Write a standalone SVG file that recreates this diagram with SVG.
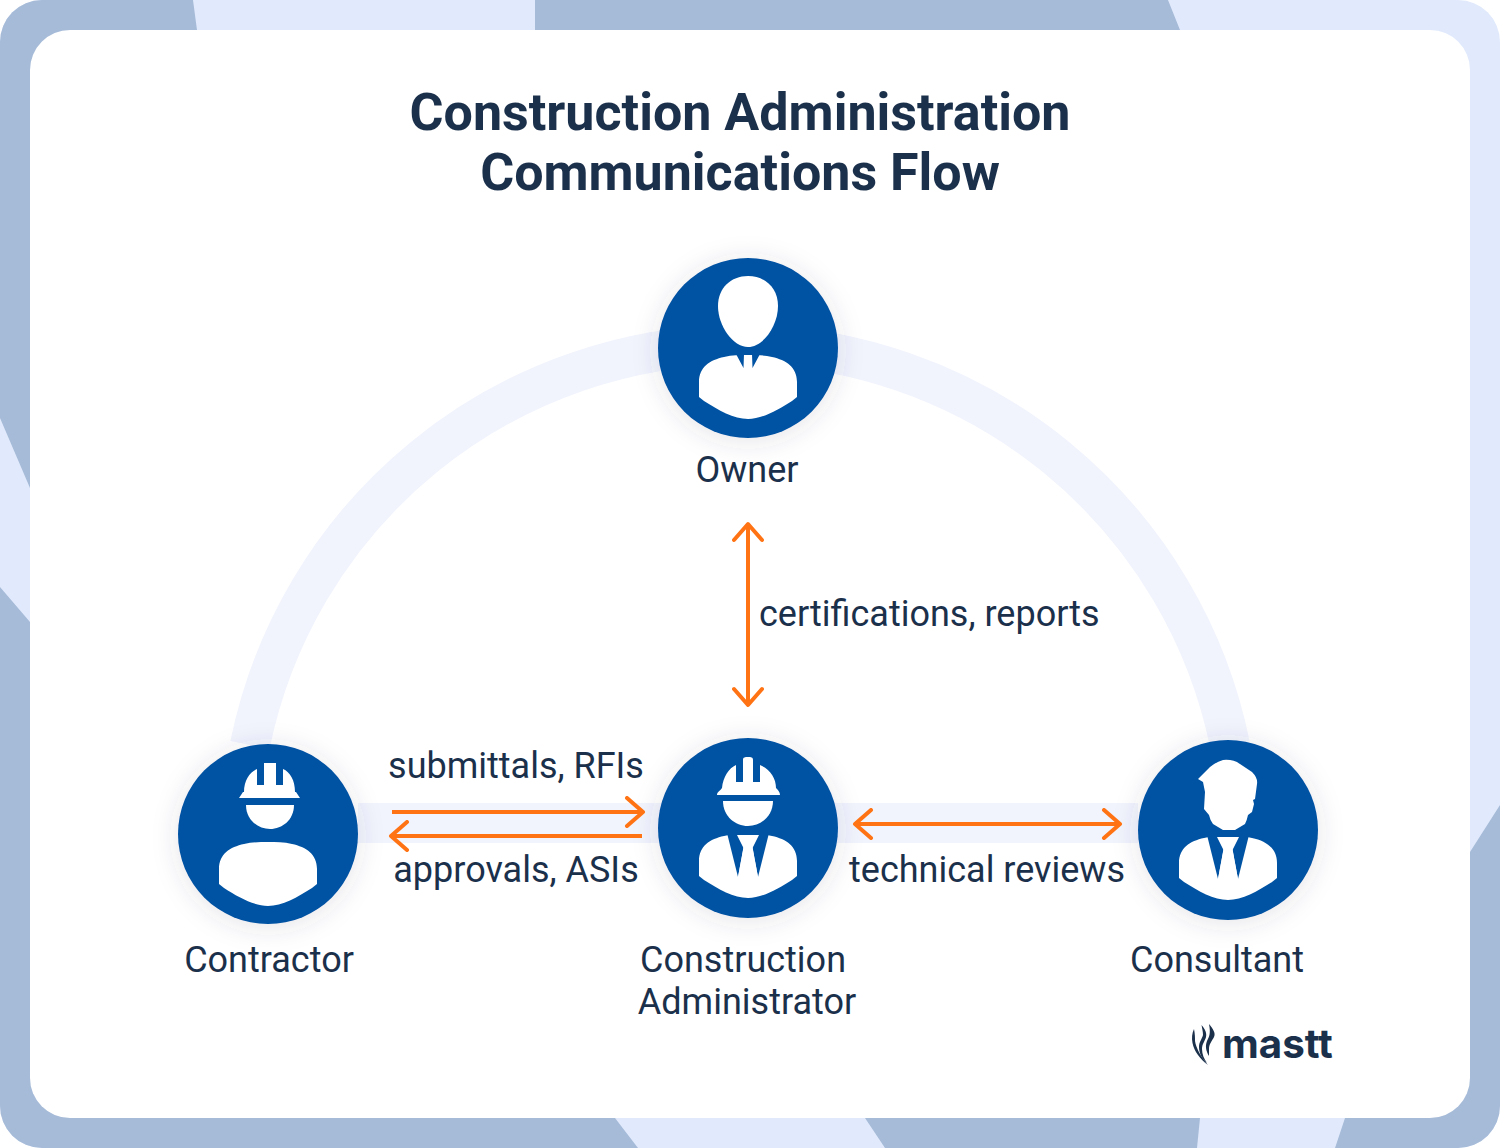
<svg xmlns="http://www.w3.org/2000/svg" width="1500" height="1148" viewBox="0 0 1500 1148">
<style>
.t{font-family:Roboto,"Liberation Sans",sans-serif;fill:#1b304b}
.title{font-size:52px;font-weight:700;text-anchor:middle}
.lab{font-size:36px;text-anchor:middle}
.dark{fill:#a6bbd8}
.conn{fill:none;stroke:#ff7314;stroke-width:4}
.band{fill:none;stroke:#f1f4fd;stroke-width:40}
.disc{fill:#0052a3;filter:url(#sh)}
.w{fill:#fff}
.b{fill:#0052a3}
.fl{fill:#1b304b}
</style>
<defs>
<filter id="sh" x="-40%" y="-40%" width="180%" height="180%"><feDropShadow dx="0" dy="3" stdDeviation="13" flood-color="#3a4660" flood-opacity="0.14"/></filter>
<marker id="ah" viewBox="0 0 22 32" refX="19" refY="16" markerWidth="22" markerHeight="32" markerUnits="userSpaceOnUse" orient="auto-start-reverse"><path d="M3 2L19 16L3 30" fill="none" stroke="#ff7314" stroke-width="4" stroke-linecap="round" stroke-linejoin="round"/></marker>
<clipPath id="frame"><rect width="1500" height="1148" rx="42"/></clipPath>
<path id="body" d="M-49 48V33C-49 18 -38 11 -24 8C-16 6 -8 6 0 6C8 6 16 6 24 8C38 11 49 18 49 33V48L44 52C30 61 14 70 0 70C-14 70 -30 61 -44 52Z"/>
<g id="suit">
<use href="#body" class="w"/>
<path class="b" d="M-21 5L-10 49L-4.500 20L-11 7H11L4.500 20L10 49L21 5Z"/>
<path class="w" d="M-10 7H10L4 19H-4Z"/>
<path class="w" d="M-4.500 19H4.500L10 49L0 60L-10 49Z"/>
</g>
</defs>
<g id="background" clip-path="url(#frame)">
<rect width="1500" height="1148" fill="#e1eafc"/>
<path class="dark" d="M0 0H193L197 30H80V80H30V488L0 418Z"/>
<path class="dark" d="M535 0H1168L1180 30H535Z"/>
<path class="dark" d="M0 587L30 622V1068H80V1118H615L638 1148H0Z"/>
<path class="dark" d="M865 1118H1200L1197 1148H885Z"/>
<path class="dark" d="M1345 1118H1420V1068H1470V852L1500 805V1148H1335Z"/>
<rect x="30" y="30" width="1440" height="1088" rx="40" fill="#fff"/>
</g>
<g id="bands">
<path class="band" d="M250 745A500 500 0 0 1 1230 745"/>
<path class="band" d="M358 823H1138"/>
</g>
<g id="title"><text class="t title" x="740" y="130">Construction Administration</text><text class="t title" x="740" y="190">Communications Flow</text></g>
<g id="owner" transform="translate(748 348)">
<circle class="disc" r="90"/>
<path class="w" d="M0 -72C17 -72 30 -60 30 -42C30 -22 15 -1 0 -1C-15 -1 -30 -22 -30 -42C-30 -60 -17 -72 0 -72Z"/>
<use href="#body" class="w" y="1"/>
<path class="b" d="M-12 6L-4.500 20L-4 6ZM4 6L4.500 20L12 6Z"/>
<text class="t lab" x="-1" y="134">Owner</text>
</g>
<g id="contractor" transform="translate(268 834)">
<circle class="disc" r="90"/>
<path class="w" d="M-29 -36L-25 -42H-24C-24 -54 -18 -62 -11 -65V-49H-4V-71H8V-49H15V-65C22 -62 27 -54 27 -42H28L32 -36Z"/>
<path class="w" d="M-22 -29H26C26 -14 14 -5 2 -5C-10 -5 -22 -14 -22 -29Z"/>
<use href="#body" class="w" y="2"/>
<text class="t lab" x="1" y="138">Contractor</text>
</g>
<g id="administrator" transform="translate(748 828)">
<circle class="disc" r="90"/>
<path class="w" d="M-31 -33C-31 -36 -28 -37 -26 -40C-25 -51 -19 -60 -12 -63V-46H-5V-68C-5 -71 -3 -71 0 -71C3 -71 5 -71 5 -68V-46H12V-63C22 -59 28 -50 28 -40C30 -38 32 -36 32 -33Z"/>
<path class="w" d="M-25 -27H25C25 -12 13 -2 0 -2C-13 -2 -25 -12 -25 -27Z"/>
<use href="#suit"/>
<text class="t lab" x="-5" y="144">Construction</text>
<text class="t lab" x="-1" y="186">Administrator</text>
</g>
<g id="consultant" transform="translate(1228 830)">
<circle class="disc" r="90"/>
<path class="w" d="M-30 -51L-18 -63Q-12 -68 -5 -70Q5 -71 12 -66L24 -58Q30 -52 29 -46L27 -31L25 -30L26 -26L24 -18L20 -15Q19 -10 17 -6L7 0H-5L-15 -6Q-18 -10 -19 -15L-24 -21L-23 -38L-25 -48Z"/>
<use href="#suit"/>
<text class="t lab" x="-11" y="142">Consultant</text>
</g>
<g id="connectors">
<path class="conn" marker-start="url(#ah)" marker-end="url(#ah)" d="M748 524V705"/>
<path class="conn" marker-end="url(#ah)" d="M392 812H643"/>
<path class="conn" marker-start="url(#ah)" d="M391 836H642"/>
<path class="conn" marker-start="url(#ah)" marker-end="url(#ah)" d="M855 824H1120"/>
</g>
<g id="logo">
<path class="fl" d="M1209 1024C1213 1029 1216 1033 1214 1037C1212 1041 1209 1044 1209 1049L1209 1056C1206 1051 1205 1046 1207 1041C1209 1037 1211 1034 1209 1024Z"/>
<path class="fl" d="M1201.500 1025C1205 1029 1207 1033 1206 1037C1205 1041 1202 1044 1202 1049C1202 1054 1204 1059 1207 1063C1202 1059 1199 1053 1199 1047C1199 1042 1202 1039 1203 1035C1203 1031 1202 1028 1201.500 1025Z"/>
<path class="fl" d="M1194 1029C1195 1034 1195 1038 1195 1041C1196 1048 1201 1057 1208 1065C1200 1059 1194 1051 1192.500 1043C1191.500 1038 1192 1033 1194 1029Z"/>
<text x="1222" y="1058" style="font-family:Inter,sans-serif;font-size:40.300px;font-weight:700;fill:#1b304b">mastt</text>
</g>
<g id="labels">
<text class="t" style="font-size:36px" x="759" y="626">certifications, reports</text>
<text class="t lab" x="516" y="778">submittals, RFIs</text>
<text class="t lab" x="516" y="882">approvals, ASIs</text>
<text class="t lab" x="987" y="882">technical reviews</text>
</g>
</svg>
